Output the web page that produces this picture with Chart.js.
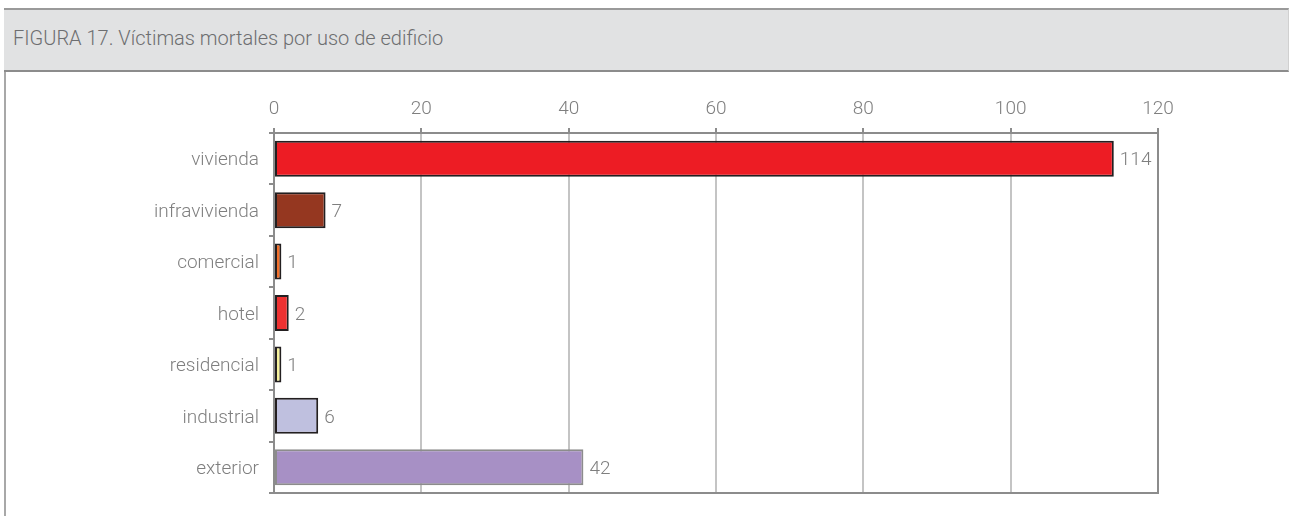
<!DOCTYPE html>
<html>
<head>
<meta charset="utf-8">
<script src="https://cdn.jsdelivr.net/npm/chart.js@4/dist/chart.umd.min.js"></script>
<style>
  html, body { margin: 0; padding: 0; background: #fff; }
  body { width: 1290px; height: 516px; position: relative; overflow: hidden; font-family: Roboto, sans-serif; }
  .frame { position: absolute; left: 4px; top: 8px; width: 2px; height: 508px; background: #a8a8a8; }
  .header {
    position: absolute; left: 4px; top: 8px; width: 1284px; height: 60px;
    background: #e1e2e3; border-top: 2px solid #9a9a9a; border-bottom: 2px solid #8c8c8c;
    border-right: 1px solid #d0d0d0;
  }
  .header span {
    position: absolute; left: 9px; top: 16px; font-size: 20px; color: #6d6e70; font-weight: 300;
  }
  #wrap { position: absolute; left: 0; top: 0; width: 1290px; height: 516px; }
</style>
</head>
<body>
<div class="frame"></div>
<div class="header"><span>FIGURA 17. Víctimas mortales por uso de edificio</span></div>
<div id="wrap"><canvas id="myChart"></canvas></div>
<script>
// ===== Chart data =====
const categories = ["vivienda", "infravivienda", "comercial", "hotel", "residencial", "industrial", "exterior"];
const victims = [114, 7, 1, 2, 1, 6, 42];
const barColors = ["#ed1c24", "#953720", "#f26f2a", "#ee3131", "#f6f29c", "#bfc0df", "#a790c5"];
const barBorders = ["#231f20", "#231f20", "#231f20", "#231f20", "#231f20", "#231f20", "#8c8c8c"];
const xTicks = [0, 20, 40, 60, 80, 100, 120];

// ===== Draw the outline of the plot area =====
const plotFrame = {
  id: "plotFrame",
  afterDatasetsDraw(chart) {
    const a = chart.chartArea, c = chart.ctx;
    c.save();
    c.strokeStyle = "#8c8c8c";
    c.lineWidth = 2;
    c.strokeRect(a.left, a.top, a.right - a.left, a.bottom - a.top);
    c.restore();
  }
};

// ===== Value labels after each bar =====
const valueLabels = {
  id: "valueLabels",
  afterDatasetsDraw(chart) {
    const c = chart.ctx;
    const meta = chart.getDatasetMeta(0);
    c.save();
    c.font = "300 19px Roboto";
    c.fillStyle = "#7f7f7f";
    c.textAlign = "left";
    c.textBaseline = "middle";
    meta.data.forEach((bar, i) => {
      c.fillText(String(victims[i]), bar.x + 6, bar.y + 2);
    });
    c.restore();
  }
};

let ctx = document.getElementById("myChart").getContext("2d");

let chart = new Chart(ctx, {
  type: "bar",
  data: {
    labels: categories,
    datasets: [{
      data: victims,
      backgroundColor: barColors,
      borderColor: barBorders,
      borderWidth: 2,
      borderSkipped: false,
      barPercentage: 0.7,
      categoryPercentage: 1.0
    }]
  },
  options: {
    indexAxis: "y",
    responsive: true,
    maintainAspectRatio: false,
    animation: false,
    layout: { padding: { left: 0, top: 0, right: 132, bottom: 23 } },
    plugins: {
      legend: { display: false },
      tooltip: { enabled: false }
    },
    scales: {
      x: {
        position: "top",
        min: 0,
        max: 120,
        afterBuildTicks: (scale) => { scale.ticks = xTicks.map(v => ({ value: v })); },
        afterFit: (scale) => { scale.height = 133; },
        ticks: { color: "#7f7f7f", font: { family: "Roboto", size: 19, weight: 300 }, padding: 7 },
        grid: {
          color: (c) => (c.index === 0 || c.index === xTicks.length - 1) ? "#8c8c8c" : "#c4c4c4",
          lineWidth: 2,
          tickLength: 5,
          tickColor: "#8c8c8c"
        },
        border: { color: "#8c8c8c", width: 2 }
      },
      y: {
        afterFit: (scale) => { scale.width = 274; },
        ticks: { color: "#7f7f7f", font: { family: "Roboto", size: 19, weight: 300 }, padding: 10, labelOffset: 2 },
        grid: {
          offset: true,
          drawOnChartArea: false,
          tickLength: 5,
          color: "#8c8c8c",
          lineWidth: 2
        },
        border: { color: "#8c8c8c", width: 2 }
      }
    }
  },
  plugins: [plotFrame, valueLabels]
});
</script>
</body>
</html>
